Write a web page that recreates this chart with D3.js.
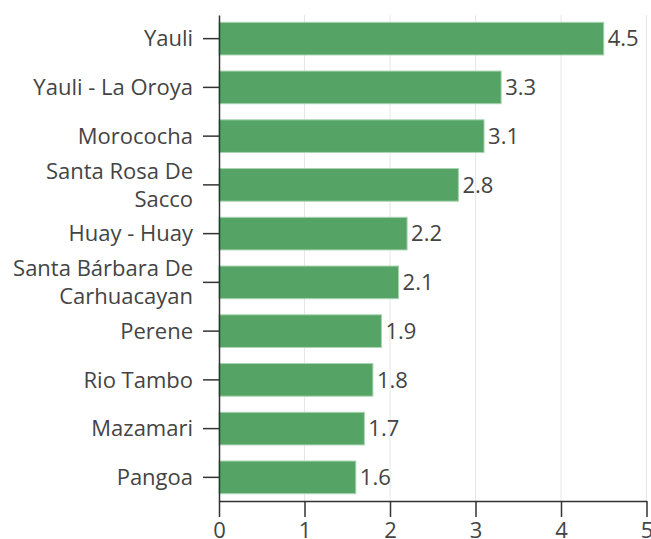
<!DOCTYPE html>
<html>
<head>
<meta charset="utf-8">
<script src="https://cdn.jsdelivr.net/npm/d3@7"></script>
<style>
  body { margin: 0; background: #fff; }
  svg text { font-family: "Open Sans", sans-serif; }
</style>
</head>
<body>
<div id="chart"></div>
<script>
// 数据
const categories = ['Yauli', 'Yauli - La Oroya', 'Morococha', 'Santa Rosa De Sacco', 'Huay - Huay',
    'Santa Bárbara De Carhuacayan', 'Perene', 'Rio Tambo', 'Mazamari', 'Pangoa'];
const values = [4.5, 3.3, 3.1, 2.8, 2.2, 2.1, 1.9, 1.8, 1.7, 1.6];
const xTicks = [0, 1, 2, 3, 4, 5];

// 长标签分行
const labelLines = {
    'Santa Rosa De Sacco': ['Santa Rosa De', 'Sacco'],
    'Santa Bárbara De Carhuacayan': ['Santa Bárbara De', 'Carhuacayan']
};

const W = 651, H = 539;
const margin = { top: 15, right: 5, bottom: 38, left: 219 };
const width = W - margin.left - margin.right;
const height = H - margin.top - margin.bottom;
const FONT = '"Open Sans", sans-serif';
const FS = '22px';

const svg = d3.select('#chart').append('svg')
    .attr('width', W)
    .attr('height', H)
    .append('g')
    .attr('transform', `translate(${margin.left},${margin.top})`);

const x = d3.scaleLinear().domain([0, 5]).range([0, 427.5]);
const y = d3.scaleBand().domain(categories).range([0, height])
    .paddingInner(0.33).paddingOuter(0.15);

// 网格线
svg.append('g')
    .selectAll('line')
    .data(xTicks.slice(1))
    .join('line')
    .attr('x1', d => x(d)).attr('x2', d => x(d))
    .attr('y1', 0).attr('y2', height)
    .style('stroke', '#e6e6e6')
    .style('stroke-width', 1);

// 柱子
svg.append('g')
    .selectAll('rect')
    .data(values)
    .join('rect')
    .attr('x', x(0))
    .attr('y', (d, i) => y(categories[i]))
    .attr('width', d => x(d) - x(0))
    .attr('height', y.bandwidth())
    .style('fill', '#55a465')
    .style('stroke', '#a9d4b2')
    .style('stroke-width', 1);

// 数值标签
svg.append('g')
    .selectAll('text')
    .data(values)
    .join('text')
    .attr('x', d => x(d) + 4)
    .attr('y', (d, i) => y(categories[i]) + y.bandwidth() / 2)
    .attr('dy', '0.35em')
    .style('font-family', FONT)
    .style('font-size', FS)
    .style('fill', '#444')
    .text(d => d.toFixed(1));

// Y轴
const yAxis = svg.append('g')
    .call(d3.axisLeft(y).tickSize(16).tickSizeOuter(0).tickFormat(''))
    .attr('font-family', null).attr('font-size', null);
yAxis.select('.domain').style('stroke', '#333').style('stroke-width', 1.5);
yAxis.selectAll('.tick line').style('stroke', '#333').style('stroke-width', 1.5);
yAxis.selectAll('.tick text').remove();
yAxis.selectAll('.tick').each(function(d) {
    const lines = labelLines[d] || [d];
    const t = d3.select(this).append('text')
        .attr('text-anchor', 'end')
        .style('font-family', FONT)
        .style('font-size', FS)
        .style('fill', '#444');
    lines.forEach((ln, i) => {
        t.append('tspan')
            .attr('x', -26)
            .attr('y', (i - (lines.length - 1) / 2) * 28)
            .attr('dy', '0.35em')
            .text(ln);
    });
});

// X轴
const xAxis = svg.append('g')
    .attr('transform', `translate(0,${height})`)
    .call(d3.axisBottom(x).tickValues(xTicks).tickSize(16).tickSizeOuter(0).tickPadding(5).tickFormat(d3.format('d')))
    .attr('font-family', null).attr('font-size', null);
xAxis.select('.domain').style('stroke', '#333').style('stroke-width', 1.5);
xAxis.selectAll('.tick line').style('stroke', '#333').style('stroke-width', 1.5);
xAxis.selectAll('.tick text')
    .style('font-size', FS)
    .style('fill', '#444')
    .style('font-family', FONT);
</script>
</body>
</html>
